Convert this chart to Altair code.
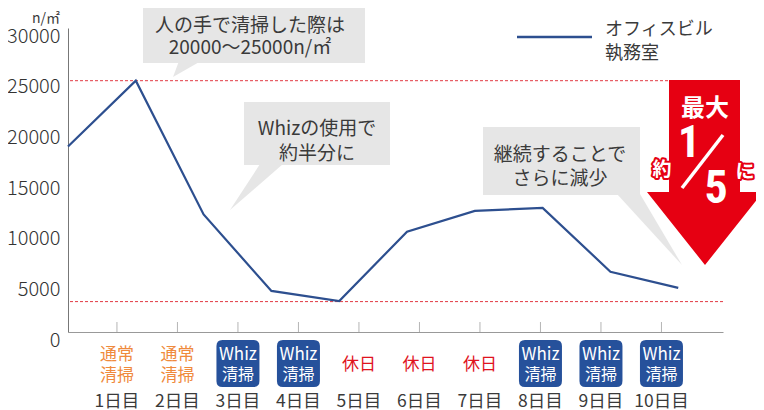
import altair as alt
import pandas as pd

# ---------------- data ----------------
DAY_IDX = [1, 2, 3, 4, 5, 6, 7, 8, 9, 10]
DAY_LABELS = ["1日目", "2日目", "3日目", "4日目", "5日目", "6日目", "7日目", "8日目", "9日目", "10日目"]
DAY_KINDS = ["通常清掃", "通常清掃", "Whiz清掃", "Whiz清掃", "休日", "休日", "休日", "Whiz清掃", "Whiz清掃", "Whiz清掃"]
SERIES_VALUES = [18300, 24800, 11600, 4050, 3050, 9900, 11950, 12250, 5950, 4350]
REF_VALUES = [24800, 3000]
Y_TICKS = [0, 5000, 10000, 15000, 20000, 25000, 30000]
SERIES_NAME = ["オフィスビル", "執務室"]
Y_UNIT = "n/㎡"
NOTE_1 = ["人の手で清掃した際は", "20000～25000n/㎡"]
NOTE_2 = ["Whizの使用で", "約半分に"]
NOTE_3 = ["継続することで", "さらに減少"]

# ---------------- styles ----------------
FONT = "Noto Sans CJK JP"
NARROW = "Liberation Sans Narrow, Roboto Condensed, Roboto"
BLUE = "#2d4f8f"
BOX_BLUE = "#26519b"
ORANGE = "#ef8a3c"
HOLIDAY_RED = "#e0141e"
RED = "#e60012"
GRAY = "#e6e6e6"
TEXT = "#3a3a3a"
W, H = 655, 304

line_df = pd.DataFrame({"i": list(range(len(SERIES_VALUES))), "v": SERIES_VALUES})
day_df = pd.DataFrame({"d": DAY_IDX, "day": DAY_LABELS, "kind": DAY_KINDS})
day_df["top"] = day_df["kind"].map({"通常清掃": "通常", "Whiz清掃": "Whiz", "休日": "休日"})
day_df["bottom"] = day_df["kind"].map({"通常清掃": "清掃", "Whiz清掃": "清掃", "休日": ""})
ref_df = pd.DataFrame({"v": REF_VALUES})
one = pd.DataFrame({"a": [0]})

day_scale = alt.Scale(type="point", domain=DAY_IDX, padding=0.913, align=0.443)


def dayx():
    return alt.X("d:O", scale=day_scale, axis=None)


Y_AXIS = alt.Axis(values=Y_TICKS, format="d", labelBaseline="middle", labelOffset=8,
                  labelFontSize=20, labelFont=FONT, labelColor="#333", labelPadding=8,
                  labelFontWeight=300, ticks=False, grid=False, domainColor="#777",
                  title=None, labelOverlap=False)
Y_SCALE = alt.Scale(domain=[0, 30000], nice=False, zero=True)


def yv():
    return alt.Y("v:Q", scale=Y_SCALE, axis=Y_AXIS)


def box(x, x2, y, y2):
    return alt.Chart(one).mark_rect(color=GRAY).encode(
        x=alt.value(x), x2=alt.value(x2), y=alt.value(y), y2=alt.value(y2))


def poly(path, color):
    return alt.Chart(one).mark_point(shape=path, size=4, filled=True, opacity=1,
                                     color=color, strokeWidth=0).encode(
        x=alt.value(0), y=alt.value(0))


def txt(s, x, y, size, color=TEXT, weight="normal", align="center",
        font=FONT, stroke=None, sw=None):
    kw = dict(text=s, fontSize=size, color=color, fontWeight=weight, align=align,
              baseline="middle", font=font)
    if stroke is not None:
        kw["stroke"] = stroke
        kw["strokeWidth"] = sw
        kw["strokeJoin"] = "round"
    return alt.Chart(one).mark_text(**kw).encode(x=alt.value(x), y=alt.value(y))


layers = []

# callout boxes and tails
layers += [
    box(75, 297, -30, 35),
    poly("M111,33 L133,33 L105,49 Z", GRAY),
    box(176, 322, 74, 137),
    poly("M192,136 L215,136 L162,182 Z", GRAY),
    box(415, 572, 99, 167),
    poly("M549,166 L572,166 L614,237 Z", GRAY),
]

# reference dashed lines
layers.append(alt.Chart(ref_df).mark_rule(color="#e23a44", strokeDash=[3, 2], strokeWidth=1).encode(y=yv()))

# day ticks
layers.append(alt.Chart(day_df).mark_rule(color="#b5b5b5", strokeWidth=1).encode(
    x=dayx(), y=alt.value(294), y2=alt.value(304)))

# main series line (with axes)
layers.append(alt.Chart(line_df).mark_line(color=BLUE, strokeWidth=2.2).encode(
    x=alt.X("i:Q", scale=alt.Scale(domain=[0, 9.66], nice=False, zero=False),
            axis=alt.Axis(domain=True, domainColor="#999", labels=False, ticks=False,
                          grid=False, title=None)),
    y=yv()))

# callout texts
layers += [
    txt(NOTE_1[0], 182, -2.5, 19),
    txt(NOTE_1[1], 182, 19.5, 19),
    txt(NOTE_2[0], 249, 100.5, 19),
    txt(NOTE_2[1], 249, 125.5, 19),
    txt(NOTE_3[0], 492, 126.5, 19),
    txt(NOTE_3[1], 492, 150.5, 19),
]

# red arrow
layers.append(poly("M601,52 L672,52 L672,164 L695,164 L637,237 L579,164 L601,164 Z", RED))
layers += [
    txt("最大", 637, 80.5, 24, color="white", weight="bold"),
    txt("1", 621, 115.5, 44, color="white", weight="bold", font=NARROW),
    txt("5", 648, 160.5, 46, color="white", weight="bold", font=NARROW),
    alt.Chart(one).mark_rule(color="white", strokeWidth=3.5).encode(
        x=alt.value(655), x2=alt.value(614), y=alt.value(107), y2=alt.value(160)),
    txt("約", 594, 141.5, 19, color=RED, weight="bold", stroke=RED, sw=4),
    txt("約", 594, 141.5, 19, color="white", weight="bold"),
    txt("に", 677, 143.5, 19, color=RED, weight="bold", stroke=RED, sw=4),
    txt("に", 677, 143.5, 19, color="white", weight="bold"),
]

# legend
layers.append(alt.Chart(one).mark_rule(color=BLUE, strokeWidth=2.5).encode(
    x=alt.value(449), x2=alt.value(524), y=alt.value(9)))
layers.append(txt(SERIES_NAME[0], 537, 1.5, 18, align="left"))
layers.append(txt(SERIES_NAME[1], 537, 25.5, 18, align="left"))

# unit label
layers.append(txt(Y_UNIT, -22, -9.5, 14))

# category labels under the axis
whiz_path = ("M-15.5,-23.5 L15.5,-23.5 Q21.5,-23.5 21.5,-17.5 L21.5,17.5 Q21.5,23.5 15.5,23.5 "
             "L-15.5,23.5 Q-21.5,23.5 -21.5,17.5 L-21.5,-17.5 Q-21.5,-23.5 -15.5,-23.5 Z")
whiz = alt.Chart(day_df).transform_filter(alt.datum.kind == "Whiz清掃")
normal = alt.Chart(day_df).transform_filter(alt.datum.kind == "通常清掃")
holiday = alt.Chart(day_df).transform_filter(alt.datum.kind == "休日")
layers.append(whiz.mark_point(shape=whiz_path, size=4, filled=True, opacity=1,
                              color=BOX_BLUE, strokeWidth=0).encode(x=dayx(), y=alt.value(335.5)))
layers.append(whiz.mark_text(font=FONT, fontSize=17, color="white", baseline="middle").encode(
    x=dayx(), y=alt.value(326.5), text="top:N"))
layers.append(whiz.mark_text(font=FONT, fontSize=16, color="white", baseline="middle").encode(
    x=dayx(), y=alt.value(346.5), text="bottom:N"))
layers.append(normal.mark_text(font=FONT, fontSize=17, color=ORANGE, baseline="middle").encode(
    x=dayx(), y=alt.value(326.5), text="top:N"))
layers.append(normal.mark_text(font=FONT, fontSize=17, color=ORANGE, baseline="middle").encode(
    x=dayx(), y=alt.value(347.5), text="bottom:N"))
layers.append(holiday.mark_text(font=FONT, fontSize=17, color=HOLIDAY_RED, baseline="middle").encode(
    x=dayx(), y=alt.value(336.5), text="top:N"))
layers.append(alt.Chart(day_df).mark_text(font=FONT, fontSize=17.5, color=TEXT, baseline="middle").encode(
    x=dayx(), y=alt.value(373.5), text="day:N"))

chart = alt.layer(*layers).resolve_scale(x="independent").properties(
    width=W, height=H,
    autosize=alt.AutoSizeParams(type="none"),
    padding={"left": 60, "top": 20, "right": 33, "bottom": 82},
    background="white",
).configure_view(stroke=None)

chart.save("out.html", embed_options={"renderer": "svg", "actions": False})
